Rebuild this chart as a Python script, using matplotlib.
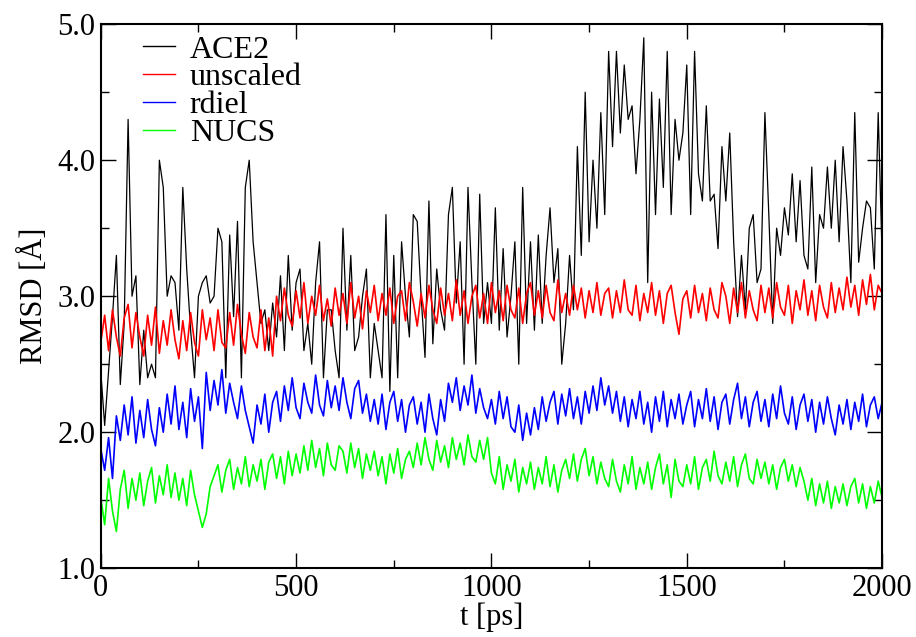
import numpy as np
from matplotlib import pyplot as plt
from matplotlib.ticker import MultipleLocator, FormatStrFormatter

# time axis in ps, one value every 10 ps
t = np.arange(0, 2001, 10)

ace2 = [
    2.45, 2.05, 2.45, 2.85, 3.30, 2.35, 2.80, 4.30, 3.00, 3.15,
    2.35, 2.75, 2.40, 2.50, 2.40, 4.00, 3.80, 3.00, 3.15, 3.10,
    2.75, 3.80, 3.20, 2.75, 2.40, 3.00, 3.10, 3.15, 2.95, 3.00,
    3.50, 3.40, 2.40, 3.45, 2.85, 3.55, 2.40, 3.80, 4.00, 3.40,
    3.10, 2.80, 2.90, 2.60, 2.95, 2.70, 3.15, 2.60, 3.30, 2.75,
    3.10, 3.20, 2.60, 2.80, 2.50, 3.10, 3.40, 2.40, 2.90, 2.90,
    2.60, 2.40, 3.50, 2.75, 3.30, 2.60, 2.70, 3.00, 3.20, 2.40,
    2.80, 2.60, 2.40, 3.60, 2.30, 3.30, 2.40, 3.40, 3.00, 2.70,
    3.60, 3.55, 3.00, 2.55, 3.70, 2.65, 3.20, 2.90, 2.75, 3.60,
    3.80, 2.95, 3.40, 2.50, 3.80, 3.10, 2.50, 3.75, 2.80, 3.10,
    2.80, 3.65, 2.75, 3.35, 2.70, 3.00, 3.40, 2.50, 3.80, 2.80,
    3.40, 2.75, 3.45, 2.80, 3.30, 3.65, 3.10, 3.35, 2.50, 2.80,
    3.30, 2.90, 4.10, 3.30, 4.50, 3.40, 4.00, 3.50, 4.35, 3.60,
    4.80, 4.10, 4.80, 4.20, 4.70, 4.30, 4.40, 3.90, 4.30, 4.90,
    3.10, 4.50, 3.60, 4.45, 3.80, 4.80, 3.60, 4.30, 4.00, 4.20,
    4.70, 3.60, 4.80, 3.90, 3.70, 4.40, 3.70, 3.75, 3.35, 4.10,
    3.70, 4.20, 3.40, 2.85, 3.30, 2.90, 3.50, 3.60, 3.10, 3.20,
    4.35, 3.60, 2.80, 3.50, 3.30, 3.65, 3.45, 3.90, 3.40, 3.85,
    3.30, 3.20, 3.95, 3.10, 3.60, 3.50, 3.95, 3.50, 4.00, 3.40,
    4.10, 3.70, 3.10, 4.35, 3.25, 3.50, 3.70, 3.65, 3.20, 4.35,
    3.30]

unscaled = [
    2.66, 2.86, 2.60, 2.90, 2.70, 2.56, 2.84, 2.94, 2.62, 2.88,
    2.70, 2.56, 2.86, 2.64, 2.92, 2.58, 2.82, 2.64, 2.90, 2.68,
    2.54, 2.82, 2.60, 2.88, 2.66, 2.56, 2.90, 2.68, 2.84, 2.60,
    2.90, 2.66, 2.62, 2.88, 2.64, 2.94, 2.72, 2.58, 2.88, 2.70,
    2.62, 2.90, 2.60, 2.84, 2.56, 3.00, 2.82, 3.06, 2.86, 2.78,
    3.04, 2.84, 3.10, 2.80, 3.00, 2.86, 3.08, 2.82, 2.98, 2.78,
    3.06, 2.86, 3.02, 2.80, 3.10, 2.84, 3.00, 2.76, 3.04, 2.88,
    3.08, 2.82, 3.02, 2.86, 3.06, 2.80, 3.00, 3.04, 2.82, 3.10,
    2.96, 2.78, 3.02, 2.84, 3.08, 2.90, 2.80, 3.06, 2.86, 3.02,
    2.82, 3.12, 2.86, 3.04, 2.80, 3.00, 3.08, 2.84, 3.02, 2.80,
    3.10, 2.88, 3.04, 2.82, 3.08, 2.90, 2.84, 3.06, 2.80, 3.02,
    3.10, 2.86, 3.04, 2.84, 3.08, 2.88, 2.82, 3.12, 2.88, 3.02,
    2.86, 3.08, 2.90, 3.06, 2.84, 3.04, 2.88, 3.10, 2.86, 3.02,
    3.06, 2.84, 3.04, 2.88, 3.12, 2.90, 2.86, 3.08, 2.82, 3.02,
    2.88, 3.10, 2.86, 3.04, 2.80, 3.02, 3.08, 2.88, 2.72, 2.98,
    3.04, 2.84, 3.08, 2.88, 3.02, 2.82, 3.06, 2.90, 2.84, 3.10,
    3.00, 2.80, 3.06, 2.88, 3.10, 2.84, 3.04, 2.90, 2.82, 3.08,
    2.88, 3.06, 2.84, 3.10, 2.92, 2.86, 3.08, 2.80, 3.04, 2.90,
    3.12, 2.86, 3.04, 2.82, 3.08, 2.92, 2.84, 3.10, 2.88, 3.06,
    2.90, 3.14, 2.92, 3.08, 2.86, 3.12, 2.94, 3.16, 2.90, 3.08,
    3.02]

rdiel = [
    1.88, 1.72, 1.96, 1.66, 2.12, 1.94, 2.20, 1.98, 2.26, 1.92,
    2.16, 1.96, 2.24, 2.02, 1.90, 2.18, 2.00, 2.28, 2.06, 2.34,
    2.02, 2.22, 1.96, 2.32, 2.08, 2.26, 1.88, 2.44, 2.16, 2.38,
    2.20, 2.46, 2.14, 2.36, 2.22, 2.10, 2.34, 2.16, 2.04, 1.92,
    2.20, 2.06, 2.28, 2.00, 2.22, 2.30, 2.08, 2.34, 2.16, 2.40,
    2.18, 2.10, 2.36, 2.22, 2.14, 2.42, 2.20, 2.12, 2.38, 2.18,
    2.34, 2.16, 2.40, 2.22, 2.10, 2.32, 2.38, 2.14, 2.28, 2.08,
    2.24, 2.06, 2.28, 2.02, 2.22, 2.30, 2.08, 2.24, 2.00, 2.20,
    2.26, 2.06, 2.22, 2.00, 2.28, 2.10, 1.98, 2.24, 2.08, 2.36,
    2.22, 2.40, 2.16, 2.34, 2.20, 2.42, 2.14, 2.32, 2.18, 2.10,
    2.24, 2.06, 2.30, 2.10, 2.26, 2.04, 2.00, 2.20, 1.94, 2.14,
    1.98, 2.18, 2.02, 2.26, 2.08, 2.22, 2.30, 2.06, 2.28, 2.12,
    2.32, 2.10, 2.26, 2.06, 2.30, 2.14, 2.34, 2.16, 2.40, 2.20,
    2.34, 2.14, 2.30, 2.08, 2.26, 2.04, 2.24, 2.10, 2.30, 2.06,
    2.22, 2.00, 2.26, 2.08, 2.30, 2.04, 2.24, 2.10, 2.28, 2.06,
    2.20, 2.30, 2.04, 2.24, 2.10, 2.32, 2.08, 2.26, 2.02, 2.22,
    2.28, 2.06, 2.24, 2.36, 2.10, 2.26, 2.04, 2.22, 2.30, 2.08,
    2.24, 2.04, 2.28, 2.10, 2.34, 2.14, 2.06, 2.26, 2.02, 2.20,
    2.28, 2.08, 2.24, 2.00, 2.22, 2.06, 2.26, 2.10, 1.98, 2.20,
    2.06, 2.24, 2.02, 2.22, 2.08, 2.28, 2.04, 2.20, 2.26, 2.10,
    2.22]

nucs = [
    1.52, 1.32, 1.66, 1.42, 1.27, 1.58, 1.72, 1.44, 1.66, 1.50,
    1.70, 1.46, 1.64, 1.74, 1.48, 1.68, 1.54, 1.76, 1.52, 1.70,
    1.50, 1.66, 1.46, 1.72, 1.54, 1.42, 1.30, 1.40, 1.60, 1.68,
    1.76, 1.56, 1.72, 1.80, 1.58, 1.74, 1.62, 1.82, 1.60, 1.76,
    1.64, 1.80, 1.58, 1.78, 1.84, 1.66, 1.82, 1.62, 1.86, 1.68,
    1.84, 1.70, 1.90, 1.72, 1.94, 1.74, 1.88, 1.68, 1.92, 1.76,
    1.72, 1.90, 1.86, 1.70, 1.92, 1.74, 1.88, 1.66, 1.84, 1.72,
    1.86, 1.68, 1.82, 1.62, 1.84, 1.70, 1.88, 1.66, 1.80, 1.86,
    1.74, 1.92, 1.76, 1.96, 1.80, 1.72, 1.94, 1.78, 1.90, 1.74,
    1.96, 1.80, 1.92, 1.76, 1.98, 1.82, 1.78, 1.94, 1.80, 1.96,
    1.70, 1.62, 1.82, 1.58, 1.76, 1.64, 1.80, 1.56, 1.74, 1.62,
    1.78, 1.58, 1.74, 1.62, 1.82, 1.60, 1.76, 1.56, 1.72, 1.80,
    1.66, 1.84, 1.64, 1.80, 1.88, 1.68, 1.82, 1.62, 1.78, 1.66,
    1.60, 1.80, 1.64, 1.56, 1.76, 1.62, 1.82, 1.58, 1.74, 1.62,
    1.78, 1.58, 1.74, 1.84, 1.62, 1.76, 1.52, 1.80, 1.64, 1.60,
    1.76, 1.62, 1.82, 1.58, 1.74, 1.80, 1.64, 1.86, 1.68, 1.62,
    1.78, 1.64, 1.82, 1.60, 1.76, 1.84, 1.66, 1.62, 1.80, 1.66,
    1.78, 1.62, 1.76, 1.58, 1.74, 1.80, 1.64, 1.76, 1.60, 1.74,
    1.64, 1.50, 1.66, 1.46, 1.62, 1.48, 1.64, 1.44, 1.60, 1.48,
    1.62, 1.46, 1.60, 1.66, 1.48, 1.62, 1.44, 1.60, 1.48, 1.64,
    1.52]

labels = ['ACE2', 'unscaled', 'rdiel', 'NUCS']
colors = ['black', 'red', 'blue', '#00ff00']
widths = [0.9, 1.2, 1.2, 1.2]

plt.rcParams['font.family'] = ['Liberation Serif', 'DejaVu Serif']
plt.rcParams['font.size'] = 22

fig = plt.figure(figsize=(9.16, 6.37), dpi=100)
ax = fig.add_axes([0.110, 0.108, 0.853, 0.854])

for y, lab, c, w in zip([ace2, unscaled, rdiel, nucs], labels, colors, widths):
    ax.plot(t, y, color=c, lw=w, label=lab)

ax.set_xlim(0, 2000)
ax.set_ylim(1.0, 5.0)
ax.xaxis.set_major_locator(MultipleLocator(500))
ax.xaxis.set_minor_locator(MultipleLocator(250))
ax.yaxis.set_major_locator(MultipleLocator(1.0))
ax.yaxis.set_minor_locator(MultipleLocator(0.5))
ax.yaxis.set_major_formatter(FormatStrFormatter('%.1f'))
ax.tick_params(which='both', direction='in', top=True, right=True, width=1)
ax.tick_params(which='major', length=11, pad=4)
ax.tick_params(which='minor', length=5.5)
for s in ax.spines.values():
    s.set_linewidth(1.5)

ax.set_xlabel('t [ps]', labelpad=0)
ax.set_ylabel('RMSD [Å]', labelpad=6)

leg = ax.legend(loc='upper left', frameon=False, fontsize=23, handlelength=1.0,
                handletextpad=0.45, labelspacing=-0.05, borderaxespad=0.2,
                bbox_to_anchor=(0.03, 1.015))
for h in leg.get_lines():
    h.set_linewidth(1.0)

fig.savefig('out.png', dpi=100)
